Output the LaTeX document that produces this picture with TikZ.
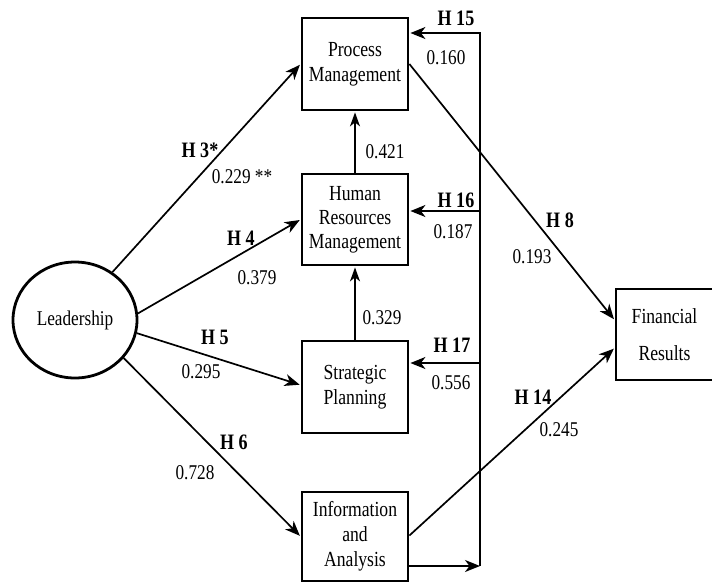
\documentclass[tikz,border=0pt]{standalone}
\usepackage{fontspec}
\setmainfont{Liberation Serif}[FakeStretch=0.82]
\usetikzlibrary{arrows.meta,shapes.geometric}
\begin{document}
\begin{tikzpicture}[x=1pt,y=1pt,
  box/.style={draw,line width=2.8pt,rectangle,minimum width=106pt,inner sep=0pt,align=center,font=\fontsize{21.5}{25}\selectfont},
  lbl/.style={inner sep=0pt,font=\fontsize{21}{24}\selectfont},
  hyp/.style={inner sep=0pt,font=\fontsize{22}{24}\selectfont\bfseries},
  arr/.style={line width=1.7pt,shorten >=1pt,-{Stealth[length=15pt,width=12pt,inset=4.5pt]}},
  varr/.style={line width=1.3pt,shorten >=1pt,-{Stealth[length=14pt,width=10pt,inset=4pt]}},
  ln/.style={line width=1.7pt}]
\useasboundingbox (0,0) rectangle (712,-582);
% nodes
\node[box,minimum height=92pt] (PM) at (355,-64) {Process\\Management};
\node[box,minimum height=91pt,font=\fontsize{21.5}{24}\selectfont] (HRM) at (355,-219.5) {Human\\Resources\\Management};
\node[box,minimum height=92pt] (SP) at (355,-387) {Strategic\\Planning};
\node[box,minimum height=89pt,font=\fontsize{21.5}{25}\selectfont] (IA) at (355,-536.5) {Information\\and\\Analysis};
\node[box,minimum width=97pt,minimum height=91pt,font=\fontsize{21.5}{37}\selectfont] (FR) at (664.5,-334.5) {Financial\\Results};
\node[draw,ellipse,line width=2.8pt,minimum width=124pt,minimum height=116pt,inner sep=0pt,font=\fontsize{21}{24}\selectfont] (L) at (75,-320) {Leadership};
% leadership arrows
\draw[arr] (L.52) -- (PM.west);
\draw[arr] (L.6) -- (HRM.west);
\draw[arr] (L.-12) -- ([yshift=2pt]SP.west);
\draw[arr] (L.-38) -- (IA.west);
% to financial results
\draw[arr] (PM.east) -- ([yshift=14.5pt]FR.west);
\draw[arr] ([yshift=1pt]IA.east) -- ([yshift=-13.5pt]FR.west);
% vertical arrows
\draw[varr] (SP.north) -- (HRM.south);
\draw[varr] (HRM.north) -- (PM.south);
% feedback loop
\coordinate (cb) at (480,-566);
\coordinate (c15) at (480,-33);
\coordinate (c16) at (480,-211);
\coordinate (c17) at (480,-363);
\draw[arr,shorten >=0pt] (IA.east |- cb) -- (cb);
\draw[arr] (cb) -- (c15) -- (PM.east |- c15);
\draw[arr] (c16) -- (HRM.east |- c16);
\draw[arr] (c17) -- (SP.east |- c17);
% labels
\node[hyp] (h3) at (200,-150) {H 3*};
\node[lbl] (v3) at (242,-177) {0.229 **};
\node[hyp] (h4) at (241,-238) {H 4};
\node[lbl] (v4) at (257,-278) {0.379};
\node[hyp] (h5) at (215,-337) {H 5};
\node[lbl] (v5) at (201,-372) {0.295};
\node[hyp] (h6) at (234,-442) {H 6};
\node[lbl] (v6) at (195,-473) {0.728};
\node[hyp] (h8) at (560,-220) {H 8};
\node[lbl] (v8) at (532,-257) {0.193};
\node[hyp] (h14) at (533,-397) {H 14};
\node[lbl] (v14) at (559,-430) {0.245};
\node[hyp] (h15) at (456,-18) {H 15};
\node[lbl] (v15) at (446,-58) {0.160};
\node[hyp] (h16) at (456,-200) {H 16};
\node[lbl] (v16) at (453,-232) {0.187};
\node[hyp] (h17) at (452,-345) {H 17};
\node[lbl] (v17) at (451,-383) {0.556};
\node[lbl] (vpm) at (385,-152) {0.421};
\node[lbl] (vsp) at (382,-318) {0.329};
\end{tikzpicture}
\end{document}
